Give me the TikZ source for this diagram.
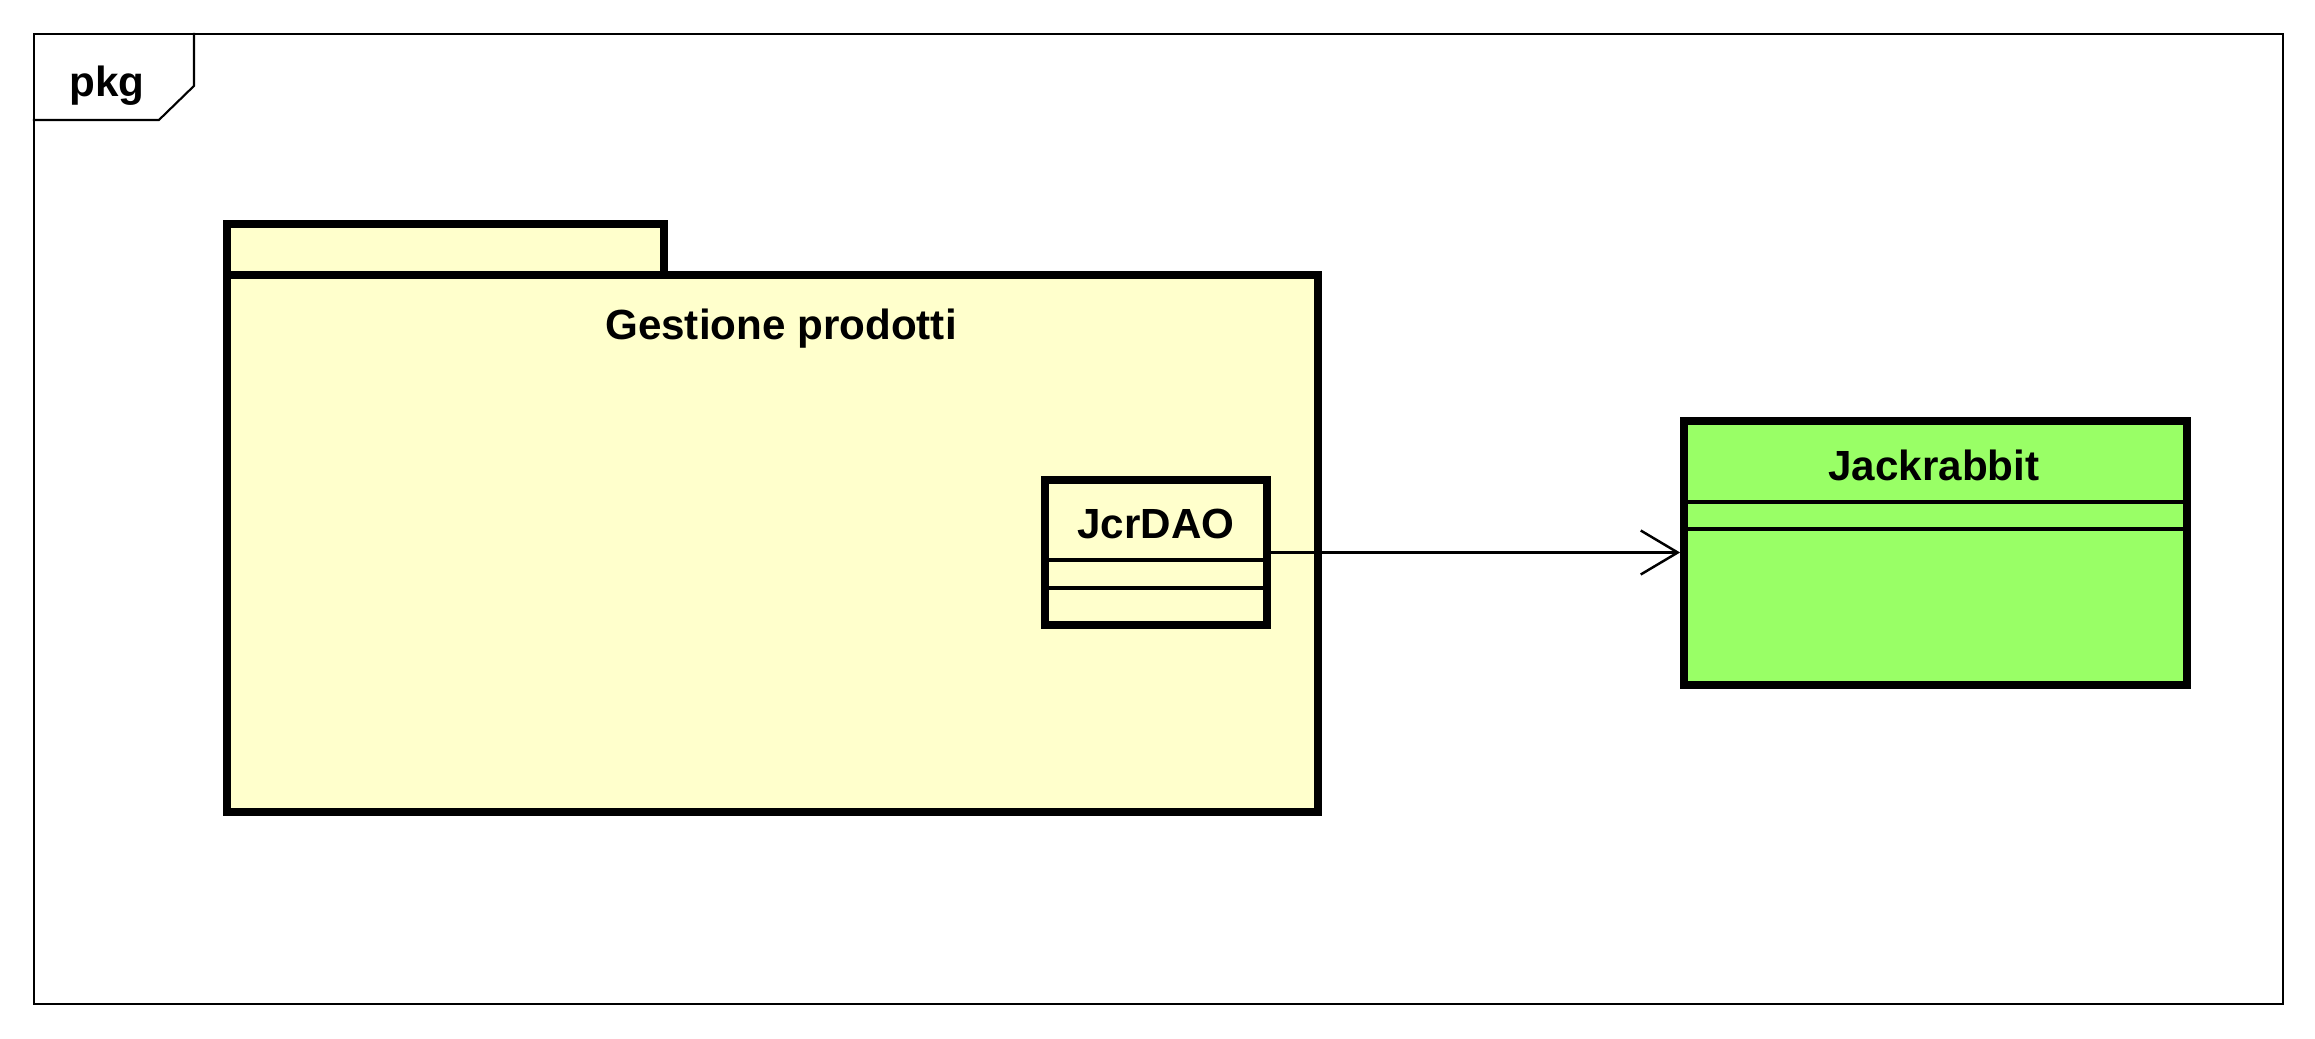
\documentclass[tikz,border=0pt]{standalone}
\usepackage{fontspec}
\setmainfont{Liberation Sans}
\usepackage{xcolor}
\usepackage{tikz}
\usetikzlibrary{arrows.meta}

\definecolor{pkgyellow}{HTML}{FFFFCC}
\definecolor{classgreen}{HTML}{99FF66}

\tikzset{
	umlbox/.style={draw, line width=2.2pt, rectangle, inner sep=0pt},
	compline/.style={line width=1pt},
	umltext/.style={font=\fontsize{12}{14}\selectfont\bfseries}
}

\begin{document}
\begin{tikzpicture}
			\useasboundingbox (0,0) rectangle (23.15,10.38);
			% outer frame
			\node[draw, line width=0.6pt, minimum width=22.49cm, minimum height=9.70cm, inner sep=0pt] at (11.585,5.19) (frame){};
			\draw[line width=0.6pt] ([xshift=1.61cm]frame.north west) -- ++(0,-0.53) -- ++(-0.35,-0.34) -- ([yshift=-0.87cm]frame.north west);
			\node[umltext] at (1.07,9.52) (pkg){pkg};
			% package
			\node[umlbox, fill=pkgyellow, minimum width=4.37cm, minimum height=0.51cm] at (4.455,7.885) (tab){};
			\node[umlbox, fill=pkgyellow, minimum width=10.91cm, minimum height=5.37cm] at (7.725,4.945) (gestione){};
			\node[umltext] at (7.81,7.09) (gestname){Gestione prodotti};
			% classes
			\node[umlbox, fill=pkgyellow, minimum width=2.22cm, minimum height=1.45cm] at (11.56,4.855) (jcrdao){};
			\node[umltext] at (11.56,5.14) (jcrname){JcrDAO};
			\draw[compline] ([yshift=-0.84cm]jcrdao.north west) -- ([yshift=-0.84cm]jcrdao.north east);
			\draw[compline] ([yshift=-1.12cm]jcrdao.north west) -- ([yshift=-1.12cm]jcrdao.north east);
			\node[umlbox, fill=classgreen, minimum width=5.03cm, minimum height=2.64cm] at (19.355,4.85) (jackrabbit){};
			\node[umltext] at (19.34,5.73) (jackname){Jackrabbit};
			\draw[compline] ([yshift=-0.85cm]jackrabbit.north west) -- ([yshift=-0.85cm]jackrabbit.north east);
			\draw[compline] ([yshift=-1.12cm]jackrabbit.north west) -- ([yshift=-1.12cm]jackrabbit.north east);
			% dependency
			\draw[line width=0.7pt, -{Straight Barb[length=0.37cm, width=0.44cm]}] (jcrdao.east) -- (jcrdao.east -| jackrabbit.west);
		\end{tikzpicture}
\end{document}
